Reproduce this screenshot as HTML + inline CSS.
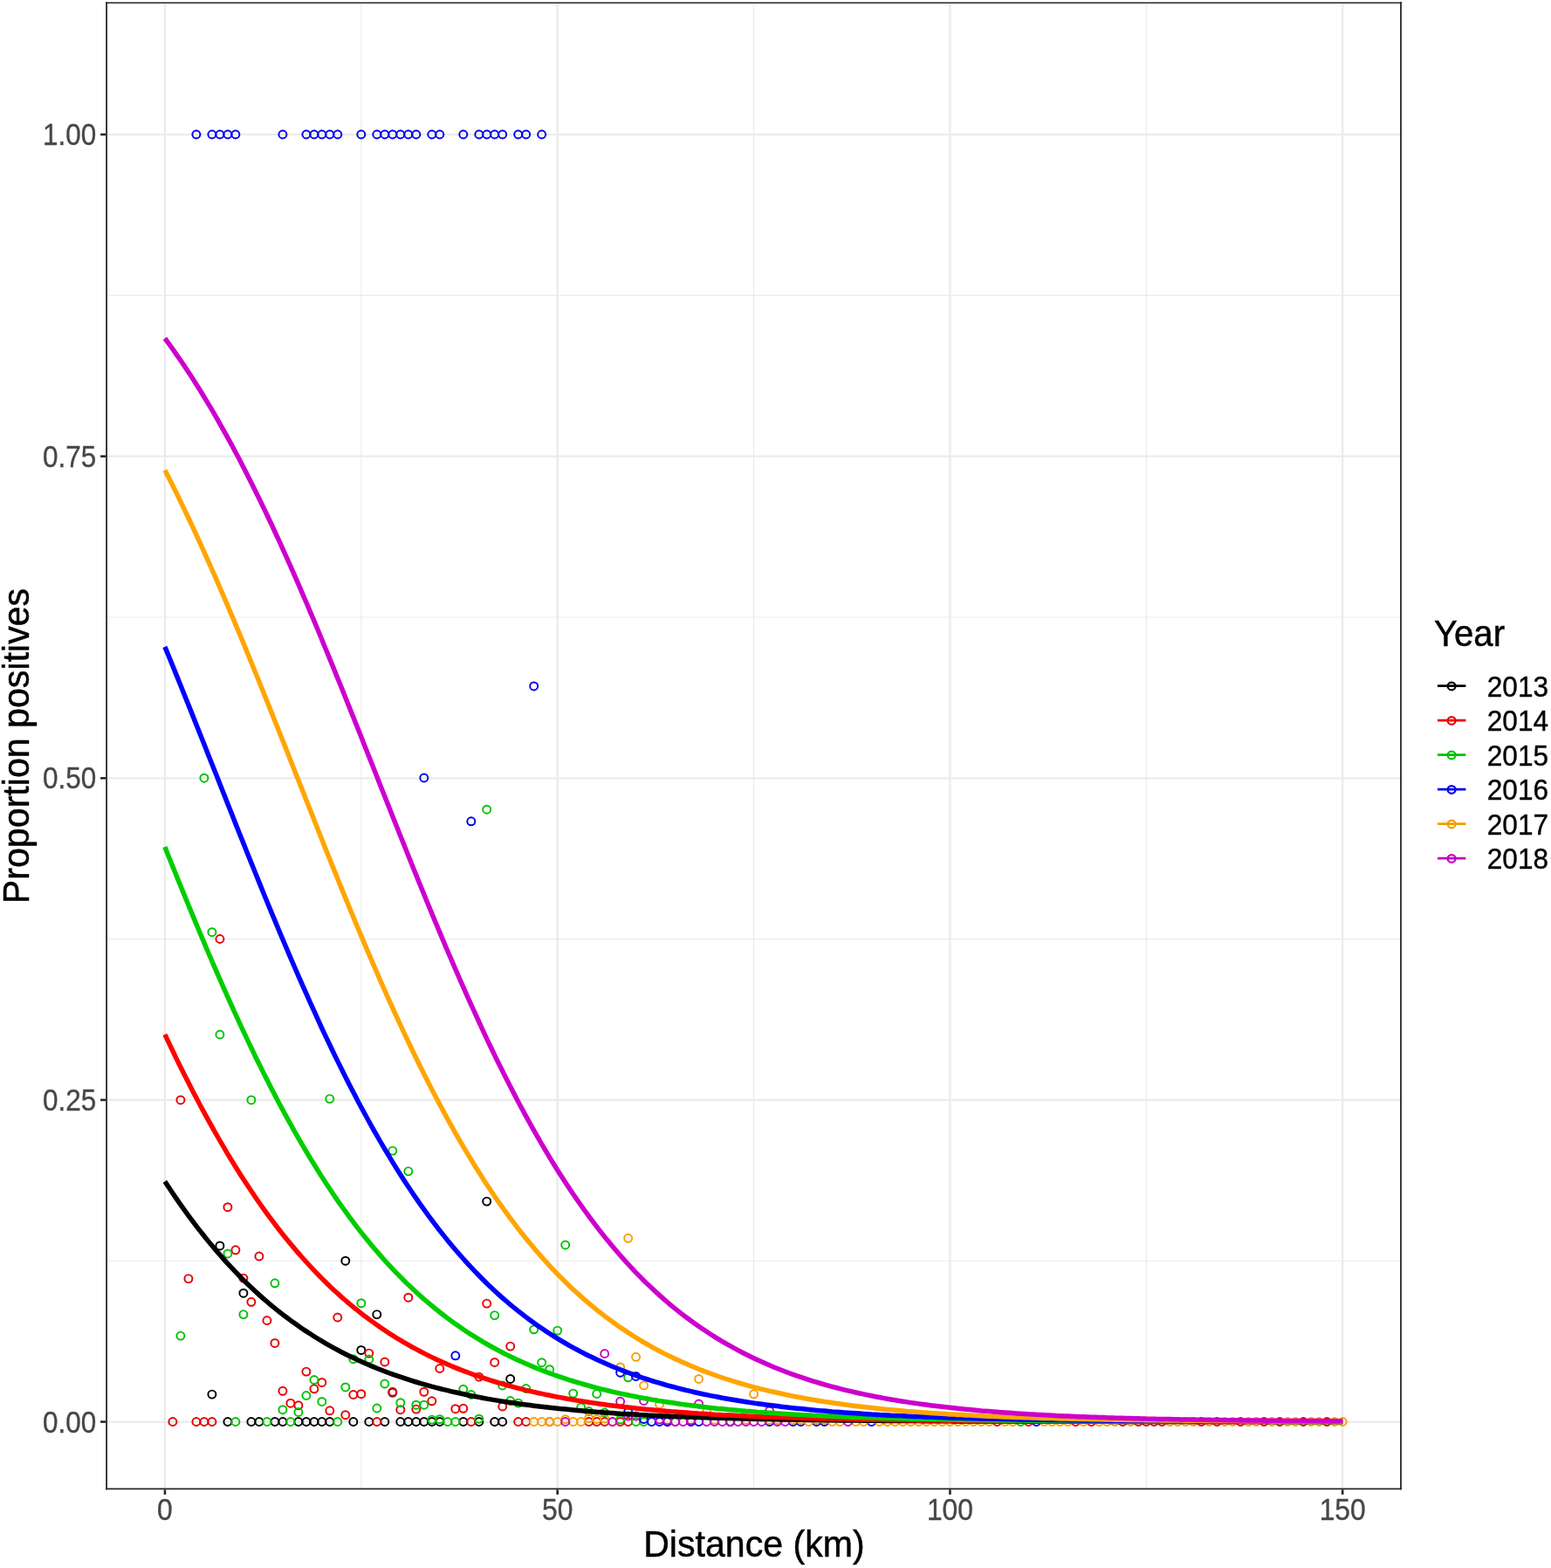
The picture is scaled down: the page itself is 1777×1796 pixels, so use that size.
<!DOCTYPE html>
<html lang="en"><head><meta charset="utf-8"><title>Proportion positives by distance and year</title>
<style>html,body{margin:0;padding:0;background:#fff}body{width:1777px;height:1796px;overflow:hidden}svg{display:block}text{font-family:"Liberation Sans",sans-serif}.tk{font-size:35.00px;fill:#474747;stroke:#474747;stroke-width:0.35px}.ti{font-size:42.30px;fill:#000;stroke:#000;stroke-width:0.5px}.lg{font-size:34.00px;fill:#000;stroke:#000;stroke-width:0.4px}.p{fill:none;stroke-width:1.95}.c{fill:none;stroke-width:5.50;stroke-linecap:butt;stroke-linejoin:round}</style></head><body>
<svg width="1777" height="1796" viewBox="0 0 1777 1796" role="img" aria-label="Proportion positives versus distance (km) by year">
<rect width="1777" height="1796" fill="#fff"/>
<g stroke="#EBEBEB" fill="none">
<g stroke-width="1.15">
<line x1="122.10" x2="1605.00" y1="1444.24" y2="1444.24"/>
<line x1="122.10" x2="1605.00" y1="1075.61" y2="1075.61"/>
<line x1="122.10" x2="1605.00" y1="706.99" y2="706.99"/>
<line x1="122.10" x2="1605.00" y1="338.36" y2="338.36"/>
<line x1="413.82" x2="413.82" y1="3.25" y2="1705.30"/>
<line x1="863.57" x2="863.57" y1="3.25" y2="1705.30"/>
<line x1="1313.33" x2="1313.33" y1="3.25" y2="1705.30"/>
</g><g stroke-width="2.35">
<line x1="122.10" x2="1605.00" y1="1628.55" y2="1628.55"/>
<line x1="122.10" x2="1605.00" y1="1259.92" y2="1259.92"/>
<line x1="122.10" x2="1605.00" y1="891.30" y2="891.30"/>
<line x1="122.10" x2="1605.00" y1="522.67" y2="522.67"/>
<line x1="122.10" x2="1605.00" y1="154.05" y2="154.05"/>
<line x1="188.95" x2="188.95" y1="3.25" y2="1705.30"/>
<line x1="638.70" x2="638.70" y1="3.25" y2="1705.30"/>
<line x1="1088.45" x2="1088.45" y1="3.25" y2="1705.30"/>
<line x1="1538.20" x2="1538.20" y1="3.25" y2="1705.30"/>
</g></g>
<g class="p" stroke="#000000">
<circle cx="260.9" cy="1628.5" r="4.50"/>
<circle cx="287.9" cy="1628.5" r="4.50"/>
<circle cx="296.9" cy="1628.5" r="4.50"/>
<circle cx="314.9" cy="1628.5" r="4.50"/>
<circle cx="323.9" cy="1628.5" r="4.50"/>
<circle cx="341.9" cy="1628.5" r="4.50"/>
<circle cx="350.9" cy="1628.5" r="4.50"/>
<circle cx="359.9" cy="1628.5" r="4.50"/>
<circle cx="368.8" cy="1628.5" r="4.50"/>
<circle cx="377.8" cy="1628.5" r="4.50"/>
<circle cx="404.8" cy="1628.5" r="4.50"/>
<circle cx="422.8" cy="1628.5" r="4.50"/>
<circle cx="440.8" cy="1628.5" r="4.50"/>
<circle cx="458.8" cy="1628.5" r="4.50"/>
<circle cx="467.8" cy="1628.5" r="4.50"/>
<circle cx="476.8" cy="1628.5" r="4.50"/>
<circle cx="485.8" cy="1628.5" r="4.50"/>
<circle cx="494.8" cy="1628.5" r="4.50"/>
<circle cx="503.8" cy="1628.5" r="4.50"/>
<circle cx="530.8" cy="1628.5" r="4.50"/>
<circle cx="548.8" cy="1628.5" r="4.50"/>
<circle cx="566.7" cy="1628.5" r="4.50"/>
<circle cx="575.7" cy="1628.5" r="4.50"/>
<circle cx="251.9" cy="1426.9" r="4.50"/>
<circle cx="395.8" cy="1444.2" r="4.50"/>
<circle cx="278.9" cy="1481.2" r="4.50"/>
<circle cx="431.8" cy="1505.6" r="4.50"/>
<circle cx="413.8" cy="1546.4" r="4.50"/>
<circle cx="242.9" cy="1597.1" r="4.50"/>
<circle cx="449.8" cy="1595.1" r="4.50"/>
<circle cx="557.7" cy="1376.1" r="4.50"/>
<circle cx="584.7" cy="1579.4" r="4.50"/>
</g>
<g class="p" stroke="#E80000">
<circle cx="197.9" cy="1628.5" r="4.50"/>
<circle cx="224.9" cy="1628.5" r="4.50"/>
<circle cx="233.9" cy="1628.5" r="4.50"/>
<circle cx="242.9" cy="1628.5" r="4.50"/>
<circle cx="431.8" cy="1628.5" r="4.50"/>
<circle cx="539.8" cy="1628.5" r="4.50"/>
<circle cx="593.7" cy="1628.5" r="4.50"/>
<circle cx="602.7" cy="1628.5" r="4.50"/>
<circle cx="629.7" cy="1628.5" r="4.50"/>
<circle cx="674.7" cy="1628.5" r="4.50"/>
<circle cx="683.7" cy="1628.5" r="4.50"/>
<circle cx="692.7" cy="1628.5" r="4.50"/>
<circle cx="710.7" cy="1628.5" r="4.50"/>
<circle cx="719.7" cy="1628.5" r="4.50"/>
<circle cx="764.6" cy="1628.5" r="4.50"/>
<circle cx="1142.4" cy="1628.5" r="4.50"/>
<circle cx="1178.4" cy="1628.5" r="4.50"/>
<circle cx="1232.4" cy="1628.5" r="4.50"/>
<circle cx="1250.4" cy="1628.5" r="4.50"/>
<circle cx="1286.3" cy="1628.5" r="4.50"/>
<circle cx="1304.3" cy="1628.5" r="4.50"/>
<circle cx="1313.3" cy="1628.5" r="4.50"/>
<circle cx="1322.3" cy="1628.5" r="4.50"/>
<circle cx="1331.3" cy="1628.5" r="4.50"/>
<circle cx="1376.3" cy="1628.5" r="4.50"/>
<circle cx="1394.3" cy="1628.5" r="4.50"/>
<circle cx="1421.3" cy="1628.5" r="4.50"/>
<circle cx="1448.2" cy="1628.5" r="4.50"/>
<circle cx="1466.2" cy="1628.5" r="4.50"/>
<circle cx="1493.2" cy="1628.5" r="4.50"/>
<circle cx="1520.2" cy="1628.5" r="4.50"/>
<circle cx="269.9" cy="1431.8" r="4.50"/>
<circle cx="296.9" cy="1439.0" r="4.50"/>
<circle cx="215.9" cy="1464.6" r="4.50"/>
<circle cx="278.9" cy="1464.1" r="4.50"/>
<circle cx="287.9" cy="1491.3" r="4.50"/>
<circle cx="305.9" cy="1512.5" r="4.50"/>
<circle cx="386.8" cy="1509.0" r="4.50"/>
<circle cx="314.9" cy="1538.4" r="4.50"/>
<circle cx="422.8" cy="1550.1" r="4.50"/>
<circle cx="350.9" cy="1571.1" r="4.50"/>
<circle cx="368.8" cy="1583.4" r="4.50"/>
<circle cx="359.9" cy="1590.8" r="4.50"/>
<circle cx="323.9" cy="1593.3" r="4.50"/>
<circle cx="404.8" cy="1597.5" r="4.50"/>
<circle cx="413.8" cy="1596.7" r="4.50"/>
<circle cx="332.9" cy="1607.2" r="4.50"/>
<circle cx="341.9" cy="1609.8" r="4.50"/>
<circle cx="377.8" cy="1615.8" r="4.50"/>
<circle cx="395.8" cy="1620.7" r="4.50"/>
<circle cx="206.9" cy="1259.9" r="4.50"/>
<circle cx="260.9" cy="1382.7" r="4.50"/>
<circle cx="251.9" cy="1075.5" r="4.50"/>
<circle cx="467.8" cy="1486.2" r="4.50"/>
<circle cx="557.7" cy="1493.1" r="4.50"/>
<circle cx="584.7" cy="1542.1" r="4.50"/>
<circle cx="440.8" cy="1560.0" r="4.50"/>
<circle cx="566.7" cy="1560.4" r="4.50"/>
<circle cx="503.8" cy="1567.5" r="4.50"/>
<circle cx="548.8" cy="1577.1" r="4.50"/>
<circle cx="449.8" cy="1594.3" r="4.50"/>
<circle cx="485.8" cy="1594.3" r="4.50"/>
<circle cx="494.8" cy="1604.8" r="4.50"/>
<circle cx="458.8" cy="1614.7" r="4.50"/>
<circle cx="476.8" cy="1614.1" r="4.50"/>
<circle cx="521.8" cy="1613.7" r="4.50"/>
<circle cx="530.8" cy="1613.3" r="4.50"/>
<circle cx="575.7" cy="1611.0" r="4.50"/>
</g>
<g class="p" stroke="#00C400">
<circle cx="269.9" cy="1628.5" r="4.50"/>
<circle cx="305.9" cy="1628.5" r="4.50"/>
<circle cx="332.9" cy="1628.5" r="4.50"/>
<circle cx="386.8" cy="1628.5" r="4.50"/>
<circle cx="512.8" cy="1628.5" r="4.50"/>
<circle cx="521.8" cy="1628.5" r="4.50"/>
<circle cx="728.6" cy="1628.5" r="4.50"/>
<circle cx="737.6" cy="1628.5" r="4.50"/>
<circle cx="773.6" cy="1628.5" r="4.50"/>
<circle cx="836.6" cy="1628.5" r="4.50"/>
<circle cx="1169.4" cy="1628.5" r="4.50"/>
<circle cx="260.9" cy="1436.0" r="4.50"/>
<circle cx="314.9" cy="1469.8" r="4.50"/>
<circle cx="278.9" cy="1505.6" r="4.50"/>
<circle cx="413.8" cy="1492.7" r="4.50"/>
<circle cx="206.9" cy="1530.1" r="4.50"/>
<circle cx="404.8" cy="1556.7" r="4.50"/>
<circle cx="422.8" cy="1557.0" r="4.50"/>
<circle cx="359.9" cy="1580.5" r="4.50"/>
<circle cx="350.9" cy="1598.5" r="4.50"/>
<circle cx="395.8" cy="1588.9" r="4.50"/>
<circle cx="368.8" cy="1605.4" r="4.50"/>
<circle cx="323.9" cy="1614.7" r="4.50"/>
<circle cx="341.9" cy="1617.5" r="4.50"/>
<circle cx="431.8" cy="1613.0" r="4.50"/>
<circle cx="251.9" cy="1185.0" r="4.50"/>
<circle cx="287.9" cy="1259.9" r="4.50"/>
<circle cx="377.8" cy="1258.6" r="4.50"/>
<circle cx="233.9" cy="891.2" r="4.50"/>
<circle cx="557.7" cy="927.2" r="4.50"/>
<circle cx="242.9" cy="1067.7" r="4.50"/>
<circle cx="449.8" cy="1318.1" r="4.50"/>
<circle cx="467.8" cy="1341.6" r="4.50"/>
<circle cx="566.7" cy="1506.6" r="4.50"/>
<circle cx="647.7" cy="1426.0" r="4.50"/>
<circle cx="611.7" cy="1522.8" r="4.50"/>
<circle cx="638.7" cy="1524.1" r="4.50"/>
<circle cx="620.7" cy="1560.7" r="4.50"/>
<circle cx="629.7" cy="1568.7" r="4.50"/>
<circle cx="440.8" cy="1585.0" r="4.50"/>
<circle cx="575.7" cy="1587.0" r="4.50"/>
<circle cx="602.7" cy="1590.5" r="4.50"/>
<circle cx="530.8" cy="1591.2" r="4.50"/>
<circle cx="539.8" cy="1597.5" r="4.50"/>
<circle cx="656.7" cy="1596.1" r="4.50"/>
<circle cx="683.7" cy="1596.5" r="4.50"/>
<circle cx="458.8" cy="1606.7" r="4.50"/>
<circle cx="476.8" cy="1609.2" r="4.50"/>
<circle cx="485.8" cy="1609.2" r="4.50"/>
<circle cx="584.7" cy="1604.5" r="4.50"/>
<circle cx="593.7" cy="1607.1" r="4.50"/>
<circle cx="665.7" cy="1612.0" r="4.50"/>
<circle cx="674.7" cy="1616.5" r="4.50"/>
<circle cx="494.8" cy="1626.1" r="4.50"/>
<circle cx="503.8" cy="1625.7" r="4.50"/>
<circle cx="548.8" cy="1625.2" r="4.50"/>
<circle cx="719.7" cy="1577.8" r="4.50"/>
<circle cx="692.7" cy="1618.0" r="4.50"/>
<circle cx="710.7" cy="1626.0" r="4.50"/>
</g>
<g class="p" stroke="#0000EB">
<circle cx="224.9" cy="154.0" r="4.50"/>
<circle cx="242.9" cy="154.0" r="4.50"/>
<circle cx="251.9" cy="154.0" r="4.50"/>
<circle cx="260.9" cy="154.0" r="4.50"/>
<circle cx="269.9" cy="154.0" r="4.50"/>
<circle cx="323.9" cy="154.0" r="4.50"/>
<circle cx="350.9" cy="154.0" r="4.50"/>
<circle cx="359.9" cy="154.0" r="4.50"/>
<circle cx="368.8" cy="154.0" r="4.50"/>
<circle cx="377.8" cy="154.0" r="4.50"/>
<circle cx="386.8" cy="154.0" r="4.50"/>
<circle cx="413.8" cy="154.0" r="4.50"/>
<circle cx="431.8" cy="154.0" r="4.50"/>
<circle cx="440.8" cy="154.0" r="4.50"/>
<circle cx="449.8" cy="154.0" r="4.50"/>
<circle cx="458.8" cy="154.0" r="4.50"/>
<circle cx="467.8" cy="154.0" r="4.50"/>
<circle cx="476.8" cy="154.0" r="4.50"/>
<circle cx="494.8" cy="154.0" r="4.50"/>
<circle cx="503.8" cy="154.0" r="4.50"/>
<circle cx="530.8" cy="154.0" r="4.50"/>
<circle cx="548.8" cy="154.0" r="4.50"/>
<circle cx="557.7" cy="154.0" r="4.50"/>
<circle cx="566.7" cy="154.0" r="4.50"/>
<circle cx="575.7" cy="154.0" r="4.50"/>
<circle cx="593.7" cy="154.0" r="4.50"/>
<circle cx="602.7" cy="154.0" r="4.50"/>
<circle cx="620.7" cy="154.0" r="4.50"/>
<circle cx="746.6" cy="1628.5" r="4.50"/>
<circle cx="755.6" cy="1628.5" r="4.50"/>
<circle cx="764.6" cy="1628.5" r="4.50"/>
<circle cx="791.6" cy="1628.5" r="4.50"/>
<circle cx="800.6" cy="1628.5" r="4.50"/>
<circle cx="836.6" cy="1628.5" r="4.50"/>
<circle cx="881.6" cy="1628.5" r="4.50"/>
<circle cx="908.5" cy="1628.5" r="4.50"/>
<circle cx="917.5" cy="1628.5" r="4.50"/>
<circle cx="935.5" cy="1628.5" r="4.50"/>
<circle cx="944.5" cy="1628.5" r="4.50"/>
<circle cx="998.5" cy="1628.5" r="4.50"/>
<circle cx="1187.4" cy="1628.5" r="4.50"/>
<circle cx="611.7" cy="785.9" r="4.50"/>
<circle cx="485.8" cy="891.0" r="4.50"/>
<circle cx="539.8" cy="940.8" r="4.50"/>
<circle cx="521.8" cy="1552.8" r="4.50"/>
<circle cx="710.7" cy="1572.2" r="4.50"/>
<circle cx="728.6" cy="1576.4" r="4.50"/>
<circle cx="737.6" cy="1625.4" r="4.50"/>
<circle cx="719.7" cy="1617.3" r="4.50"/>
</g>
<g class="p" stroke="#FA9F00">
<circle cx="611.7" cy="1628.5" r="4.50"/>
<circle cx="620.7" cy="1628.5" r="4.50"/>
<circle cx="629.7" cy="1628.5" r="4.50"/>
<circle cx="638.7" cy="1628.5" r="4.50"/>
<circle cx="656.7" cy="1628.5" r="4.50"/>
<circle cx="665.7" cy="1628.5" r="4.50"/>
<circle cx="701.7" cy="1628.5" r="4.50"/>
<circle cx="926.5" cy="1628.5" r="4.50"/>
<circle cx="953.5" cy="1628.5" r="4.50"/>
<circle cx="962.5" cy="1628.5" r="4.50"/>
<circle cx="980.5" cy="1628.5" r="4.50"/>
<circle cx="989.5" cy="1628.5" r="4.50"/>
<circle cx="1007.5" cy="1628.5" r="4.50"/>
<circle cx="1016.5" cy="1628.5" r="4.50"/>
<circle cx="1025.5" cy="1628.5" r="4.50"/>
<circle cx="1034.5" cy="1628.5" r="4.50"/>
<circle cx="1043.5" cy="1628.5" r="4.50"/>
<circle cx="1052.5" cy="1628.5" r="4.50"/>
<circle cx="1061.5" cy="1628.5" r="4.50"/>
<circle cx="1070.5" cy="1628.5" r="4.50"/>
<circle cx="1079.5" cy="1628.5" r="4.50"/>
<circle cx="1088.4" cy="1628.5" r="4.50"/>
<circle cx="1097.4" cy="1628.5" r="4.50"/>
<circle cx="1106.4" cy="1628.5" r="4.50"/>
<circle cx="1115.4" cy="1628.5" r="4.50"/>
<circle cx="1124.4" cy="1628.5" r="4.50"/>
<circle cx="1133.4" cy="1628.5" r="4.50"/>
<circle cx="1151.4" cy="1628.5" r="4.50"/>
<circle cx="1160.4" cy="1628.5" r="4.50"/>
<circle cx="1196.4" cy="1628.5" r="4.50"/>
<circle cx="1205.4" cy="1628.5" r="4.50"/>
<circle cx="1214.4" cy="1628.5" r="4.50"/>
<circle cx="1223.4" cy="1628.5" r="4.50"/>
<circle cx="1241.4" cy="1628.5" r="4.50"/>
<circle cx="1259.4" cy="1628.5" r="4.50"/>
<circle cx="1268.3" cy="1628.5" r="4.50"/>
<circle cx="1277.3" cy="1628.5" r="4.50"/>
<circle cx="1295.3" cy="1628.5" r="4.50"/>
<circle cx="1340.3" cy="1628.5" r="4.50"/>
<circle cx="1349.3" cy="1628.5" r="4.50"/>
<circle cx="1358.3" cy="1628.5" r="4.50"/>
<circle cx="1367.3" cy="1628.5" r="4.50"/>
<circle cx="1385.3" cy="1628.5" r="4.50"/>
<circle cx="1403.3" cy="1628.5" r="4.50"/>
<circle cx="1412.3" cy="1628.5" r="4.50"/>
<circle cx="1430.3" cy="1628.5" r="4.50"/>
<circle cx="1439.3" cy="1628.5" r="4.50"/>
<circle cx="1457.2" cy="1628.5" r="4.50"/>
<circle cx="1475.2" cy="1628.5" r="4.50"/>
<circle cx="1484.2" cy="1628.5" r="4.50"/>
<circle cx="1502.2" cy="1628.5" r="4.50"/>
<circle cx="1511.2" cy="1628.5" r="4.50"/>
<circle cx="1529.2" cy="1628.5" r="4.50"/>
<circle cx="1538.2" cy="1628.5" r="4.50"/>
<circle cx="719.7" cy="1418.3" r="4.50"/>
<circle cx="728.6" cy="1554.3" r="4.50"/>
<circle cx="710.7" cy="1565.9" r="4.50"/>
<circle cx="737.6" cy="1587.0" r="4.50"/>
<circle cx="800.6" cy="1579.5" r="4.50"/>
<circle cx="863.6" cy="1596.8" r="4.50"/>
<circle cx="755.6" cy="1608.5" r="4.50"/>
<circle cx="809.6" cy="1617.3" r="4.50"/>
<circle cx="674.7" cy="1624.4" r="4.50"/>
<circle cx="683.7" cy="1625.4" r="4.50"/>
<circle cx="647.7" cy="1625.7" r="4.50"/>
<circle cx="692.7" cy="1625.0" r="4.50"/>
<circle cx="764.6" cy="1626.4" r="4.50"/>
<circle cx="791.6" cy="1626.4" r="4.50"/>
<circle cx="818.6" cy="1626.4" r="4.50"/>
<circle cx="854.6" cy="1626.4" r="4.50"/>
<circle cx="881.6" cy="1626.4" r="4.50"/>
<circle cx="890.6" cy="1626.4" r="4.50"/>
<circle cx="908.5" cy="1626.4" r="4.50"/>
<circle cx="917.5" cy="1626.4" r="4.50"/>
<circle cx="935.5" cy="1626.4" r="4.50"/>
<circle cx="944.5" cy="1626.4" r="4.50"/>
</g>
<g class="p" stroke="#C800C8">
<circle cx="647.7" cy="1628.5" r="4.50"/>
<circle cx="701.7" cy="1628.5" r="4.50"/>
<circle cx="773.6" cy="1628.5" r="4.50"/>
<circle cx="782.6" cy="1628.5" r="4.50"/>
<circle cx="809.6" cy="1628.5" r="4.50"/>
<circle cx="818.6" cy="1628.5" r="4.50"/>
<circle cx="827.6" cy="1628.5" r="4.50"/>
<circle cx="836.6" cy="1628.5" r="4.50"/>
<circle cx="845.6" cy="1628.5" r="4.50"/>
<circle cx="854.6" cy="1628.5" r="4.50"/>
<circle cx="863.6" cy="1628.5" r="4.50"/>
<circle cx="872.6" cy="1628.5" r="4.50"/>
<circle cx="890.6" cy="1628.5" r="4.50"/>
<circle cx="899.6" cy="1628.5" r="4.50"/>
<circle cx="971.5" cy="1628.5" r="4.50"/>
<circle cx="692.7" cy="1550.5" r="4.50"/>
<circle cx="710.7" cy="1605.3" r="4.50"/>
<circle cx="737.6" cy="1604.5" r="4.50"/>
<circle cx="800.6" cy="1608.0" r="4.50"/>
<circle cx="881.6" cy="1616.0" r="4.50"/>
<circle cx="719.7" cy="1622.0" r="4.50"/>
<circle cx="728.6" cy="1622.0" r="4.50"/>
<circle cx="755.6" cy="1626.0" r="4.50"/>
<circle cx="764.6" cy="1627.0" r="4.50"/>
<circle cx="791.6" cy="1627.0" r="4.50"/>
</g>
<polyline class="c" stroke="#000000" points="188.9,1353.3 193.4,1360.1 197.9,1366.8 202.4,1373.4 206.9,1379.8 211.4,1386.2 215.9,1392.3 220.4,1398.4 224.9,1404.3 229.4,1410.1 233.9,1415.8 238.4,1421.4 242.9,1426.8 247.4,1432.1 251.9,1437.3 256.4,1442.4 260.9,1447.3 265.4,1452.2 269.9,1456.9 274.4,1461.5 278.9,1466.1 283.4,1470.5 287.9,1474.8 292.4,1479.0 296.9,1483.1 301.4,1487.1 305.9,1491.0 310.4,1494.8 314.9,1498.5 319.4,1502.1 323.9,1505.6 328.4,1509.0 332.9,1512.4 337.4,1515.6 341.9,1518.8 346.4,1521.9 350.9,1524.9 355.4,1527.8 359.9,1530.7 364.4,1533.5 368.8,1536.2 373.3,1538.8 377.8,1541.4 382.3,1543.9 386.8,1546.3 391.3,1548.7 395.8,1551.0 400.3,1553.2 404.8,1555.4 409.3,1557.5 413.8,1559.6 418.3,1561.6 422.8,1563.5 427.3,1565.4 431.8,1567.2 436.3,1569.0 440.8,1570.8 445.3,1572.5 449.8,1574.1 454.3,1575.7 458.8,1577.2 463.3,1578.7 467.8,1580.2 472.3,1581.6 476.8,1583.0 481.3,1584.4 485.8,1585.7 490.3,1586.9 494.8,1588.2 499.3,1589.3 503.8,1590.5 508.3,1591.6 512.8,1592.7 517.3,1593.8 521.8,1594.8 526.3,1595.8 530.8,1596.8 535.3,1597.7 539.8,1598.7 544.3,1599.5 548.8,1600.4 553.2,1601.3 557.7,1602.1 562.2,1602.9 566.7,1603.6 571.2,1604.4 575.7,1605.1 580.2,1605.8 584.7,1606.5 589.2,1607.1 593.7,1607.8 598.2,1608.4 602.7,1609.0 607.2,1609.6 611.7,1610.2 616.2,1610.7 620.7,1611.2 625.2,1611.8 629.7,1612.3 634.2,1612.8 638.7,1613.2 643.2,1613.7 647.7,1614.1 652.2,1614.6 656.7,1615.0 661.2,1615.4 665.7,1615.8 670.2,1616.2 674.7,1616.6 679.2,1616.9 683.7,1617.3 688.2,1617.6 692.7,1617.9 697.2,1618.3 701.7,1618.6 706.2,1618.9 710.7,1619.2 715.2,1619.4 719.7,1619.7 724.2,1620.0 728.6,1620.2 733.1,1620.5 737.6,1620.7 742.1,1621.0 746.6,1621.2 751.1,1621.4 755.6,1621.6 760.1,1621.9 764.6,1622.1 769.1,1622.3 773.6,1622.4 778.1,1622.6 782.6,1622.8 787.1,1623.0 791.6,1623.1 796.1,1623.3 800.6,1623.5 805.1,1623.6 809.6,1623.8 814.1,1623.9 818.6,1624.1 823.1,1624.2 827.6,1624.3 832.1,1624.5 836.6,1624.6 841.1,1624.7 845.6,1624.8 850.1,1624.9 854.6,1625.0 859.1,1625.1 863.6,1625.2 868.1,1625.3 872.6,1625.4 877.1,1625.5 881.6,1625.6 886.1,1625.7 890.6,1625.8 895.1,1625.9 899.6,1626.0 904.1,1626.0 908.5,1626.1 913.0,1626.2 917.5,1626.3 922.0,1626.3 926.5,1626.4 931.0,1626.5 935.5,1626.5 940.0,1626.6 944.5,1626.7 949.0,1626.7 953.5,1626.8 958.0,1626.8 962.5,1626.9 967.0,1626.9 971.5,1627.0 976.0,1627.0 980.5,1627.1 985.0,1627.1 989.5,1627.2 994.0,1627.2 998.5,1627.2 1003.0,1627.3 1007.5,1627.3 1012.0,1627.4 1016.5,1627.4 1021.0,1627.4 1025.5,1627.5 1030.0,1627.5 1034.5,1627.5 1039.0,1627.6 1043.5,1627.6 1048.0,1627.6 1052.5,1627.6 1057.0,1627.7 1061.5,1627.7 1066.0,1627.7 1070.5,1627.7 1075.0,1627.8 1079.5,1627.8 1084.0,1627.8 1088.4,1627.8 1092.9,1627.9 1097.4,1627.9 1101.9,1627.9 1106.4,1627.9 1110.9,1627.9 1115.4,1628.0 1119.9,1628.0 1124.4,1628.0 1128.9,1628.0 1133.4,1628.0 1137.9,1628.0 1142.4,1628.1 1146.9,1628.1 1151.4,1628.1 1155.9,1628.1 1160.4,1628.1 1164.9,1628.1 1169.4,1628.1 1173.9,1628.2 1178.4,1628.2 1182.9,1628.2 1187.4,1628.2 1191.9,1628.2 1196.4,1628.2 1200.9,1628.2 1205.4,1628.2 1209.9,1628.2 1214.4,1628.3 1218.9,1628.3 1223.4,1628.3 1227.9,1628.3 1232.4,1628.3 1236.9,1628.3 1241.4,1628.3 1245.9,1628.3 1250.4,1628.3 1254.9,1628.3 1259.4,1628.3 1263.9,1628.3 1268.3,1628.3 1272.8,1628.4 1277.3,1628.4 1281.8,1628.4 1286.3,1628.4 1290.8,1628.4 1295.3,1628.4 1299.8,1628.4 1304.3,1628.4 1308.8,1628.4 1313.3,1628.4 1317.8,1628.4 1322.3,1628.4 1326.8,1628.4 1331.3,1628.4 1335.8,1628.4 1340.3,1628.4 1344.8,1628.4 1349.3,1628.4 1353.8,1628.4 1358.3,1628.4 1362.8,1628.4 1367.3,1628.4 1371.8,1628.4 1376.3,1628.5 1380.8,1628.5 1385.3,1628.5 1389.8,1628.5 1394.3,1628.5 1398.8,1628.5 1403.3,1628.5 1407.8,1628.5 1412.3,1628.5 1416.8,1628.5 1421.3,1628.5 1425.8,1628.5 1430.3,1628.5 1434.8,1628.5 1439.3,1628.5 1443.8,1628.5 1448.2,1628.5 1452.7,1628.5 1457.2,1628.5 1461.7,1628.5 1466.2,1628.5 1470.7,1628.5 1475.2,1628.5 1479.7,1628.5 1484.2,1628.5 1488.7,1628.5 1493.2,1628.5 1497.7,1628.5 1502.2,1628.5 1506.7,1628.5 1511.2,1628.5 1515.7,1628.5 1520.2,1628.5 1524.7,1628.5 1529.2,1628.5 1533.7,1628.5 1538.2,1628.5"/>
<polyline class="c" stroke="#FF0000" points="188.9,1184.9 193.4,1194.4 197.9,1203.8 202.4,1213.1 206.9,1222.2 211.4,1231.3 215.9,1240.1 220.4,1248.9 224.9,1257.5 229.4,1266.0 233.9,1274.4 238.4,1282.6 242.9,1290.7 247.4,1298.7 251.9,1306.5 256.4,1314.2 260.9,1321.8 265.4,1329.2 269.9,1336.5 274.4,1343.7 278.9,1350.7 283.4,1357.6 287.9,1364.3 292.4,1371.0 296.9,1377.5 301.4,1383.8 305.9,1390.1 310.4,1396.2 314.9,1402.1 319.4,1408.0 323.9,1413.7 328.4,1419.3 332.9,1424.8 337.4,1430.1 341.9,1435.4 346.4,1440.5 350.9,1445.5 355.4,1450.4 359.9,1455.2 364.4,1459.8 368.8,1464.4 373.3,1468.8 377.8,1473.2 382.3,1477.4 386.8,1481.5 391.3,1485.6 395.8,1489.5 400.3,1493.4 404.8,1497.1 409.3,1500.7 413.8,1504.3 418.3,1507.8 422.8,1511.1 427.3,1514.4 431.8,1517.6 436.3,1520.8 440.8,1523.8 445.3,1526.8 449.8,1529.6 454.3,1532.5 458.8,1535.2 463.3,1537.9 467.8,1540.4 472.3,1543.0 476.8,1545.4 481.3,1547.8 485.8,1550.1 490.3,1552.4 494.8,1554.6 499.3,1556.7 503.8,1558.8 508.3,1560.8 512.8,1562.8 517.3,1564.7 521.8,1566.6 526.3,1568.4 530.8,1570.1 535.3,1571.8 539.8,1573.5 544.3,1575.1 548.8,1576.7 553.2,1578.2 557.7,1579.7 562.2,1581.1 566.7,1582.5 571.2,1583.9 575.7,1585.2 580.2,1586.5 584.7,1587.7 589.2,1588.9 593.7,1590.1 598.2,1591.2 602.7,1592.3 607.2,1593.4 611.7,1594.4 616.2,1595.5 620.7,1596.4 625.2,1597.4 629.7,1598.3 634.2,1599.2 638.7,1600.1 643.2,1600.9 647.7,1601.8 652.2,1602.6 656.7,1603.3 661.2,1604.1 665.7,1604.8 670.2,1605.5 674.7,1606.2 679.2,1606.9 683.7,1607.5 688.2,1608.2 692.7,1608.8 697.2,1609.4 701.7,1609.9 706.2,1610.5 710.7,1611.0 715.2,1611.6 719.7,1612.1 724.2,1612.6 728.6,1613.1 733.1,1613.5 737.6,1614.0 742.1,1614.4 746.6,1614.8 751.1,1615.3 755.6,1615.7 760.1,1616.0 764.6,1616.4 769.1,1616.8 773.6,1617.1 778.1,1617.5 782.6,1617.8 787.1,1618.1 791.6,1618.5 796.1,1618.8 800.6,1619.1 805.1,1619.3 809.6,1619.6 814.1,1619.9 818.6,1620.2 823.1,1620.4 827.6,1620.7 832.1,1620.9 836.6,1621.1 841.1,1621.3 845.6,1621.6 850.1,1621.8 854.6,1622.0 859.1,1622.2 863.6,1622.4 868.1,1622.6 872.6,1622.7 877.1,1622.9 881.6,1623.1 886.1,1623.3 890.6,1623.4 895.1,1623.6 899.6,1623.7 904.1,1623.9 908.5,1624.0 913.0,1624.1 917.5,1624.3 922.0,1624.4 926.5,1624.5 931.0,1624.7 935.5,1624.8 940.0,1624.9 944.5,1625.0 949.0,1625.1 953.5,1625.2 958.0,1625.3 962.5,1625.4 967.0,1625.5 971.5,1625.6 976.0,1625.7 980.5,1625.8 985.0,1625.9 989.5,1625.9 994.0,1626.0 998.5,1626.1 1003.0,1626.2 1007.5,1626.2 1012.0,1626.3 1016.5,1626.4 1021.0,1626.4 1025.5,1626.5 1030.0,1626.6 1034.5,1626.6 1039.0,1626.7 1043.5,1626.7 1048.0,1626.8 1052.5,1626.9 1057.0,1626.9 1061.5,1627.0 1066.0,1627.0 1070.5,1627.1 1075.0,1627.1 1079.5,1627.1 1084.0,1627.2 1088.4,1627.2 1092.9,1627.3 1097.4,1627.3 1101.9,1627.3 1106.4,1627.4 1110.9,1627.4 1115.4,1627.4 1119.9,1627.5 1124.4,1627.5 1128.9,1627.5 1133.4,1627.6 1137.9,1627.6 1142.4,1627.6 1146.9,1627.7 1151.4,1627.7 1155.9,1627.7 1160.4,1627.7 1164.9,1627.8 1169.4,1627.8 1173.9,1627.8 1178.4,1627.8 1182.9,1627.9 1187.4,1627.9 1191.9,1627.9 1196.4,1627.9 1200.9,1627.9 1205.4,1628.0 1209.9,1628.0 1214.4,1628.0 1218.9,1628.0 1223.4,1628.0 1227.9,1628.0 1232.4,1628.1 1236.9,1628.1 1241.4,1628.1 1245.9,1628.1 1250.4,1628.1 1254.9,1628.1 1259.4,1628.1 1263.9,1628.2 1268.3,1628.2 1272.8,1628.2 1277.3,1628.2 1281.8,1628.2 1286.3,1628.2 1290.8,1628.2 1295.3,1628.2 1299.8,1628.2 1304.3,1628.2 1308.8,1628.3 1313.3,1628.3 1317.8,1628.3 1322.3,1628.3 1326.8,1628.3 1331.3,1628.3 1335.8,1628.3 1340.3,1628.3 1344.8,1628.3 1349.3,1628.3 1353.8,1628.3 1358.3,1628.3 1362.8,1628.3 1367.3,1628.4 1371.8,1628.4 1376.3,1628.4 1380.8,1628.4 1385.3,1628.4 1389.8,1628.4 1394.3,1628.4 1398.8,1628.4 1403.3,1628.4 1407.8,1628.4 1412.3,1628.4 1416.8,1628.4 1421.3,1628.4 1425.8,1628.4 1430.3,1628.4 1434.8,1628.4 1439.3,1628.4 1443.8,1628.4 1448.2,1628.4 1452.7,1628.4 1457.2,1628.4 1461.7,1628.4 1466.2,1628.5 1470.7,1628.5 1475.2,1628.5 1479.7,1628.5 1484.2,1628.5 1488.7,1628.5 1493.2,1628.5 1497.7,1628.5 1502.2,1628.5 1506.7,1628.5 1511.2,1628.5 1515.7,1628.5 1520.2,1628.5 1524.7,1628.5 1529.2,1628.5 1533.7,1628.5 1538.2,1628.5"/>
<polyline class="c" stroke="#00CD00" points="188.9,970.1 193.4,981.4 197.9,992.5 202.4,1003.7 206.9,1014.8 211.4,1025.8 215.9,1036.7 220.4,1047.6 224.9,1058.5 229.4,1069.2 233.9,1079.9 238.4,1090.5 242.9,1101.0 247.4,1111.4 251.9,1121.7 256.4,1131.9 260.9,1142.0 265.4,1152.0 269.9,1161.9 274.4,1171.7 278.9,1181.4 283.4,1190.9 287.9,1200.3 292.4,1209.7 296.9,1218.8 301.4,1227.9 305.9,1236.8 310.4,1245.7 314.9,1254.3 319.4,1262.9 323.9,1271.3 328.4,1279.6 332.9,1287.7 337.4,1295.8 341.9,1303.6 346.4,1311.4 350.9,1319.0 355.4,1326.5 359.9,1333.8 364.4,1341.0 368.8,1348.1 373.3,1355.0 377.8,1361.8 382.3,1368.5 386.8,1375.1 391.3,1381.5 395.8,1387.7 400.3,1393.9 404.8,1399.9 409.3,1405.8 413.8,1411.6 418.3,1417.2 422.8,1422.8 427.3,1428.2 431.8,1433.4 436.3,1438.6 440.8,1443.7 445.3,1448.6 449.8,1453.4 454.3,1458.1 458.8,1462.7 463.3,1467.2 467.8,1471.6 472.3,1475.8 476.8,1480.0 481.3,1484.1 485.8,1488.1 490.3,1491.9 494.8,1495.7 499.3,1499.4 503.8,1503.0 508.3,1506.5 512.8,1509.9 517.3,1513.2 521.8,1516.4 526.3,1519.6 530.8,1522.7 535.3,1525.7 539.8,1528.6 544.3,1531.4 548.8,1534.2 553.2,1536.9 557.7,1539.5 562.2,1542.0 566.7,1544.5 571.2,1546.9 575.7,1549.3 580.2,1551.6 584.7,1553.8 589.2,1555.9 593.7,1558.0 598.2,1560.1 602.7,1562.1 607.2,1564.0 611.7,1565.9 616.2,1567.7 620.7,1569.5 625.2,1571.2 629.7,1572.9 634.2,1574.5 638.7,1576.1 643.2,1577.6 647.7,1579.1 652.2,1580.6 656.7,1582.0 661.2,1583.4 665.7,1584.7 670.2,1586.0 674.7,1587.2 679.2,1588.5 683.7,1589.6 688.2,1590.8 692.7,1591.9 697.2,1593.0 701.7,1594.1 706.2,1595.1 710.7,1596.1 715.2,1597.0 719.7,1598.0 724.2,1598.9 728.6,1599.8 733.1,1600.6 737.6,1601.5 742.1,1602.3 746.6,1603.1 751.1,1603.8 755.6,1604.6 760.1,1605.3 764.6,1606.0 769.1,1606.6 773.6,1607.3 778.1,1607.9 782.6,1608.6 787.1,1609.2 791.6,1609.7 796.1,1610.3 800.6,1610.8 805.1,1611.4 809.6,1611.9 814.1,1612.4 818.6,1612.9 823.1,1613.4 827.6,1613.8 832.1,1614.3 836.6,1614.7 841.1,1615.1 845.6,1615.5 850.1,1615.9 854.6,1616.3 859.1,1616.6 863.6,1617.0 868.1,1617.4 872.6,1617.7 877.1,1618.0 881.6,1618.3 886.1,1618.6 890.6,1618.9 895.1,1619.2 899.6,1619.5 904.1,1619.8 908.5,1620.1 913.0,1620.3 917.5,1620.6 922.0,1620.8 926.5,1621.0 931.0,1621.3 935.5,1621.5 940.0,1621.7 944.5,1621.9 949.0,1622.1 953.5,1622.3 958.0,1622.5 962.5,1622.7 967.0,1622.9 971.5,1623.0 976.0,1623.2 980.5,1623.4 985.0,1623.5 989.5,1623.7 994.0,1623.8 998.5,1624.0 1003.0,1624.1 1007.5,1624.2 1012.0,1624.4 1016.5,1624.5 1021.0,1624.6 1025.5,1624.7 1030.0,1624.8 1034.5,1625.0 1039.0,1625.1 1043.5,1625.2 1048.0,1625.3 1052.5,1625.4 1057.0,1625.5 1061.5,1625.6 1066.0,1625.7 1070.5,1625.7 1075.0,1625.8 1079.5,1625.9 1084.0,1626.0 1088.4,1626.1 1092.9,1626.1 1097.4,1626.2 1101.9,1626.3 1106.4,1626.4 1110.9,1626.4 1115.4,1626.5 1119.9,1626.5 1124.4,1626.6 1128.9,1626.7 1133.4,1626.7 1137.9,1626.8 1142.4,1626.8 1146.9,1626.9 1151.4,1626.9 1155.9,1627.0 1160.4,1627.0 1164.9,1627.1 1169.4,1627.1 1173.9,1627.2 1178.4,1627.2 1182.9,1627.2 1187.4,1627.3 1191.9,1627.3 1196.4,1627.4 1200.9,1627.4 1205.4,1627.4 1209.9,1627.5 1214.4,1627.5 1218.9,1627.5 1223.4,1627.6 1227.9,1627.6 1232.4,1627.6 1236.9,1627.7 1241.4,1627.7 1245.9,1627.7 1250.4,1627.7 1254.9,1627.8 1259.4,1627.8 1263.9,1627.8 1268.3,1627.8 1272.8,1627.8 1277.3,1627.9 1281.8,1627.9 1286.3,1627.9 1290.8,1627.9 1295.3,1627.9 1299.8,1628.0 1304.3,1628.0 1308.8,1628.0 1313.3,1628.0 1317.8,1628.0 1322.3,1628.1 1326.8,1628.1 1331.3,1628.1 1335.8,1628.1 1340.3,1628.1 1344.8,1628.1 1349.3,1628.1 1353.8,1628.1 1358.3,1628.2 1362.8,1628.2 1367.3,1628.2 1371.8,1628.2 1376.3,1628.2 1380.8,1628.2 1385.3,1628.2 1389.8,1628.2 1394.3,1628.2 1398.8,1628.3 1403.3,1628.3 1407.8,1628.3 1412.3,1628.3 1416.8,1628.3 1421.3,1628.3 1425.8,1628.3 1430.3,1628.3 1434.8,1628.3 1439.3,1628.3 1443.8,1628.3 1448.2,1628.3 1452.7,1628.3 1457.2,1628.4 1461.7,1628.4 1466.2,1628.4 1470.7,1628.4 1475.2,1628.4 1479.7,1628.4 1484.2,1628.4 1488.7,1628.4 1493.2,1628.4 1497.7,1628.4 1502.2,1628.4 1506.7,1628.4 1511.2,1628.4 1515.7,1628.4 1520.2,1628.4 1524.7,1628.4 1529.2,1628.4 1533.7,1628.4 1538.2,1628.4"/>
<polyline class="c" stroke="#0000FF" points="188.9,740.9 193.4,751.8 197.9,762.8 202.4,773.9 206.9,785.0 211.4,796.2 215.9,807.4 220.4,818.6 224.9,829.9 229.4,841.2 233.9,852.5 238.4,863.9 242.9,875.2 247.4,886.6 251.9,898.0 256.4,909.3 260.9,920.7 265.4,932.0 269.9,943.4 274.4,954.7 278.9,965.9 283.4,977.2 287.9,988.4 292.4,999.5 296.9,1010.6 301.4,1021.7 305.9,1032.7 310.4,1043.6 314.9,1054.4 319.4,1065.2 323.9,1075.9 328.4,1086.5 332.9,1097.1 337.4,1107.5 341.9,1117.8 346.4,1128.1 350.9,1138.2 355.4,1148.3 359.9,1158.2 364.4,1168.1 368.8,1177.8 373.3,1187.4 377.8,1196.8 382.3,1206.2 386.8,1215.4 391.3,1224.5 395.8,1233.5 400.3,1242.4 404.8,1251.1 409.3,1259.7 413.8,1268.2 418.3,1276.5 422.8,1284.7 427.3,1292.8 431.8,1300.7 436.3,1308.5 440.8,1316.2 445.3,1323.7 449.8,1331.1 454.3,1338.4 458.8,1345.5 463.3,1352.5 467.8,1359.3 472.3,1366.0 476.8,1372.6 481.3,1379.1 485.8,1385.4 490.3,1391.6 494.8,1397.7 499.3,1403.6 503.8,1409.5 508.3,1415.1 512.8,1420.7 517.3,1426.2 521.8,1431.5 526.3,1436.7 530.8,1441.8 535.3,1446.8 539.8,1451.6 544.3,1456.4 548.8,1461.0 553.2,1465.5 557.7,1470.0 562.2,1474.3 566.7,1478.5 571.2,1482.6 575.7,1486.6 580.2,1490.5 584.7,1494.3 589.2,1498.0 593.7,1501.7 598.2,1505.2 602.7,1508.6 607.2,1512.0 611.7,1515.3 616.2,1518.4 620.7,1521.5 625.2,1524.6 629.7,1527.5 634.2,1530.4 638.7,1533.2 643.2,1535.9 647.7,1538.5 652.2,1541.1 656.7,1543.6 661.2,1546.0 665.7,1548.4 670.2,1550.7 674.7,1553.0 679.2,1555.1 683.7,1557.3 688.2,1559.3 692.7,1561.3 697.2,1563.3 701.7,1565.2 706.2,1567.0 710.7,1568.8 715.2,1570.6 719.7,1572.3 724.2,1573.9 728.6,1575.5 733.1,1577.1 737.6,1578.6 742.1,1580.0 746.6,1581.5 751.1,1582.8 755.6,1584.2 760.1,1585.5 764.6,1586.8 769.1,1588.0 773.6,1589.2 778.1,1590.4 782.6,1591.5 787.1,1592.6 791.6,1593.7 796.1,1594.7 800.6,1595.7 805.1,1596.7 809.6,1597.6 814.1,1598.6 818.6,1599.4 823.1,1600.3 827.6,1601.2 832.1,1602.0 836.6,1602.8 841.1,1603.5 845.6,1604.3 850.1,1605.0 854.6,1605.7 859.1,1606.4 863.6,1607.1 868.1,1607.7 872.6,1608.3 877.1,1608.9 881.6,1609.5 886.1,1610.1 890.6,1610.6 895.1,1611.2 899.6,1611.7 904.1,1612.2 908.5,1612.7 913.0,1613.2 917.5,1613.6 922.0,1614.1 926.5,1614.5 931.0,1614.9 935.5,1615.4 940.0,1615.8 944.5,1616.1 949.0,1616.5 953.5,1616.9 958.0,1617.2 962.5,1617.6 967.0,1617.9 971.5,1618.2 976.0,1618.5 980.5,1618.8 985.0,1619.1 989.5,1619.4 994.0,1619.7 998.5,1620.0 1003.0,1620.2 1007.5,1620.5 1012.0,1620.7 1016.5,1620.9 1021.0,1621.2 1025.5,1621.4 1030.0,1621.6 1034.5,1621.8 1039.0,1622.0 1043.5,1622.2 1048.0,1622.4 1052.5,1622.6 1057.0,1622.8 1061.5,1623.0 1066.0,1623.1 1070.5,1623.3 1075.0,1623.5 1079.5,1623.6 1084.0,1623.8 1088.4,1623.9 1092.9,1624.0 1097.4,1624.2 1101.9,1624.3 1106.4,1624.4 1110.9,1624.6 1115.4,1624.7 1119.9,1624.8 1124.4,1624.9 1128.9,1625.0 1133.4,1625.1 1137.9,1625.2 1142.4,1625.3 1146.9,1625.4 1151.4,1625.5 1155.9,1625.6 1160.4,1625.7 1164.9,1625.8 1169.4,1625.9 1173.9,1626.0 1178.4,1626.0 1182.9,1626.1 1187.4,1626.2 1191.9,1626.3 1196.4,1626.3 1200.9,1626.4 1205.4,1626.5 1209.9,1626.5 1214.4,1626.6 1218.9,1626.6 1223.4,1626.7 1227.9,1626.8 1232.4,1626.8 1236.9,1626.9 1241.4,1626.9 1245.9,1627.0 1250.4,1627.0 1254.9,1627.1 1259.4,1627.1 1263.9,1627.2 1268.3,1627.2 1272.8,1627.2 1277.3,1627.3 1281.8,1627.3 1286.3,1627.4 1290.8,1627.4 1295.3,1627.4 1299.8,1627.5 1304.3,1627.5 1308.8,1627.5 1313.3,1627.6 1317.8,1627.6 1322.3,1627.6 1326.8,1627.6 1331.3,1627.7 1335.8,1627.7 1340.3,1627.7 1344.8,1627.7 1349.3,1627.8 1353.8,1627.8 1358.3,1627.8 1362.8,1627.8 1367.3,1627.9 1371.8,1627.9 1376.3,1627.9 1380.8,1627.9 1385.3,1627.9 1389.8,1628.0 1394.3,1628.0 1398.8,1628.0 1403.3,1628.0 1407.8,1628.0 1412.3,1628.0 1416.8,1628.1 1421.3,1628.1 1425.8,1628.1 1430.3,1628.1 1434.8,1628.1 1439.3,1628.1 1443.8,1628.1 1448.2,1628.2 1452.7,1628.2 1457.2,1628.2 1461.7,1628.2 1466.2,1628.2 1470.7,1628.2 1475.2,1628.2 1479.7,1628.2 1484.2,1628.2 1488.7,1628.3 1493.2,1628.3 1497.7,1628.3 1502.2,1628.3 1506.7,1628.3 1511.2,1628.3 1515.7,1628.3 1520.2,1628.3 1524.7,1628.3 1529.2,1628.3 1533.7,1628.3 1538.2,1628.3"/>
<polyline class="c" stroke="#FFA500" points="188.9,538.5 193.4,547.3 197.9,556.3 202.4,565.3 206.9,574.6 211.4,583.9 215.9,593.3 220.4,602.9 224.9,612.6 229.4,622.4 233.9,632.3 238.4,642.3 242.9,652.5 247.4,662.7 251.9,673.0 256.4,683.4 260.9,694.0 265.4,704.6 269.9,715.2 274.4,726.0 278.9,736.8 283.4,747.8 287.9,758.7 292.4,769.8 296.9,780.8 301.4,792.0 305.9,803.2 310.4,814.4 314.9,825.7 319.4,837.0 323.9,848.3 328.4,859.6 332.9,871.0 337.4,882.4 341.9,893.7 346.4,905.1 350.9,916.5 355.4,927.8 359.9,939.2 364.4,950.5 368.8,961.7 373.3,973.0 377.8,984.2 382.3,995.4 386.8,1006.5 391.3,1017.6 395.8,1028.6 400.3,1039.5 404.8,1050.4 409.3,1061.2 413.8,1071.9 418.3,1082.6 422.8,1093.1 427.3,1103.6 431.8,1114.0 436.3,1124.3 440.8,1134.5 445.3,1144.6 449.8,1154.5 454.3,1164.4 458.8,1174.2 463.3,1183.8 467.8,1193.3 472.3,1202.7 476.8,1212.0 481.3,1221.2 485.8,1230.2 490.3,1239.1 494.8,1247.9 499.3,1256.5 503.8,1265.0 508.3,1273.4 512.8,1281.7 517.3,1289.8 521.8,1297.8 526.3,1305.6 530.8,1313.3 535.3,1320.9 539.8,1328.4 544.3,1335.7 548.8,1342.8 553.2,1349.9 557.7,1356.8 562.2,1363.6 566.7,1370.2 571.2,1376.7 575.7,1383.1 580.2,1389.3 584.7,1395.4 589.2,1401.4 593.7,1407.3 598.2,1413.0 602.7,1418.7 607.2,1424.1 611.7,1429.5 616.2,1434.8 620.7,1439.9 625.2,1444.9 629.7,1449.8 634.2,1454.6 638.7,1459.3 643.2,1463.9 647.7,1468.3 652.2,1472.7 656.7,1476.9 661.2,1481.1 665.7,1485.1 670.2,1489.1 674.7,1492.9 679.2,1496.7 683.7,1500.3 688.2,1503.9 692.7,1507.4 697.2,1510.7 701.7,1514.0 706.2,1517.3 710.7,1520.4 715.2,1523.4 719.7,1526.4 724.2,1529.3 728.6,1532.1 733.1,1534.9 737.6,1537.5 742.1,1540.1 746.6,1542.7 751.1,1545.1 755.6,1547.5 760.1,1549.9 764.6,1552.1 769.1,1554.3 773.6,1556.5 778.1,1558.6 782.6,1560.6 787.1,1562.6 791.6,1564.5 796.1,1566.3 800.6,1568.2 805.1,1569.9 809.6,1571.6 814.1,1573.3 818.6,1574.9 823.1,1576.5 827.6,1578.0 832.1,1579.5 836.6,1580.9 841.1,1582.3 845.6,1583.7 850.1,1585.0 854.6,1586.3 859.1,1587.6 863.6,1588.8 868.1,1589.9 872.6,1591.1 877.1,1592.2 881.6,1593.3 886.1,1594.3 890.6,1595.3 895.1,1596.3 899.6,1597.3 904.1,1598.2 908.5,1599.1 913.0,1600.0 917.5,1600.8 922.0,1601.7 926.5,1602.5 931.0,1603.2 935.5,1604.0 940.0,1604.7 944.5,1605.5 949.0,1606.1 953.5,1606.8 958.0,1607.5 962.5,1608.1 967.0,1608.7 971.5,1609.3 976.0,1609.9 980.5,1610.4 985.0,1611.0 989.5,1611.5 994.0,1612.0 998.5,1612.5 1003.0,1613.0 1007.5,1613.5 1012.0,1613.9 1016.5,1614.4 1021.0,1614.8 1025.5,1615.2 1030.0,1615.6 1034.5,1616.0 1039.0,1616.4 1043.5,1616.7 1048.0,1617.1 1052.5,1617.4 1057.0,1617.8 1061.5,1618.1 1066.0,1618.4 1070.5,1618.7 1075.0,1619.0 1079.5,1619.3 1084.0,1619.6 1088.4,1619.9 1092.9,1620.1 1097.4,1620.4 1101.9,1620.6 1106.4,1620.9 1110.9,1621.1 1115.4,1621.3 1119.9,1621.5 1124.4,1621.7 1128.9,1622.0 1133.4,1622.2 1137.9,1622.3 1142.4,1622.5 1146.9,1622.7 1151.4,1622.9 1155.9,1623.1 1160.4,1623.2 1164.9,1623.4 1169.4,1623.5 1173.9,1623.7 1178.4,1623.8 1182.9,1624.0 1187.4,1624.1 1191.9,1624.3 1196.4,1624.4 1200.9,1624.5 1205.4,1624.6 1209.9,1624.8 1214.4,1624.9 1218.9,1625.0 1223.4,1625.1 1227.9,1625.2 1232.4,1625.3 1236.9,1625.4 1241.4,1625.5 1245.9,1625.6 1250.4,1625.7 1254.9,1625.8 1259.4,1625.8 1263.9,1625.9 1268.3,1626.0 1272.8,1626.1 1277.3,1626.2 1281.8,1626.2 1286.3,1626.3 1290.8,1626.4 1295.3,1626.4 1299.8,1626.5 1304.3,1626.6 1308.8,1626.6 1313.3,1626.7 1317.8,1626.7 1322.3,1626.8 1326.8,1626.8 1331.3,1626.9 1335.8,1626.9 1340.3,1627.0 1344.8,1627.0 1349.3,1627.1 1353.8,1627.1 1358.3,1627.2 1362.8,1627.2 1367.3,1627.3 1371.8,1627.3 1376.3,1627.3 1380.8,1627.4 1385.3,1627.4 1389.8,1627.4 1394.3,1627.5 1398.8,1627.5 1403.3,1627.5 1407.8,1627.6 1412.3,1627.6 1416.8,1627.6 1421.3,1627.7 1425.8,1627.7 1430.3,1627.7 1434.8,1627.7 1439.3,1627.8 1443.8,1627.8 1448.2,1627.8 1452.7,1627.8 1457.2,1627.9 1461.7,1627.9 1466.2,1627.9 1470.7,1627.9 1475.2,1627.9 1479.7,1628.0 1484.2,1628.0 1488.7,1628.0 1493.2,1628.0 1497.7,1628.0 1502.2,1628.0 1506.7,1628.1 1511.2,1628.1 1515.7,1628.1 1520.2,1628.1 1524.7,1628.1 1529.2,1628.1 1533.7,1628.1 1538.2,1628.2"/>
<polyline class="c" stroke="#CD00CD" points="188.9,387.5 193.4,393.6 197.9,399.9 202.4,406.3 206.9,412.8 211.4,419.4 215.9,426.2 220.4,433.1 224.9,440.2 229.4,447.3 233.9,454.7 238.4,462.1 242.9,469.7 247.4,477.4 251.9,485.3 256.4,493.3 260.9,501.4 265.4,509.6 269.9,518.0 274.4,526.5 278.9,535.2 283.4,544.0 287.9,552.9 292.4,561.9 296.9,571.1 301.4,580.4 305.9,589.8 310.4,599.3 314.9,609.0 319.4,618.7 323.9,628.6 328.4,638.6 332.9,648.7 337.4,658.9 341.9,669.2 346.4,679.6 350.9,690.0 355.4,700.6 359.9,711.3 364.4,722.0 368.8,732.8 373.3,743.7 377.8,754.6 382.3,765.6 386.8,776.7 391.3,787.8 395.8,799.0 400.3,810.2 404.8,821.5 409.3,832.8 413.8,844.1 418.3,855.4 422.8,866.8 427.3,878.1 431.8,889.5 436.3,900.9 440.8,912.2 445.3,923.6 449.8,934.9 454.3,946.3 458.8,957.5 463.3,968.8 467.8,980.0 472.3,991.2 476.8,1002.4 481.3,1013.5 485.8,1024.5 490.3,1035.5 494.8,1046.4 499.3,1057.2 503.8,1067.9 508.3,1078.6 512.8,1089.2 517.3,1099.7 521.8,1110.1 526.3,1120.5 530.8,1130.7 535.3,1140.8 539.8,1150.8 544.3,1160.7 548.8,1170.5 553.2,1180.2 557.7,1189.8 562.2,1199.2 566.7,1208.6 571.2,1217.8 575.7,1226.8 580.2,1235.8 584.7,1244.6 589.2,1253.3 593.7,1261.9 598.2,1270.3 602.7,1278.6 607.2,1286.8 611.7,1294.8 616.2,1302.7 620.7,1310.5 625.2,1318.1 629.7,1325.6 634.2,1333.0 638.7,1340.2 643.2,1347.3 647.7,1354.2 652.2,1361.0 656.7,1367.7 661.2,1374.3 665.7,1380.7 670.2,1387.0 674.7,1393.2 679.2,1399.2 683.7,1405.1 688.2,1410.9 692.7,1416.6 697.2,1422.1 701.7,1427.5 706.2,1432.8 710.7,1438.0 715.2,1443.1 719.7,1448.0 724.2,1452.8 728.6,1457.6 733.1,1462.2 737.6,1466.7 742.1,1471.1 746.6,1475.3 751.1,1479.5 755.6,1483.6 760.1,1487.6 764.6,1491.5 769.1,1495.3 773.6,1499.0 778.1,1502.6 782.6,1506.1 787.1,1509.5 791.6,1512.8 796.1,1516.1 800.6,1519.2 805.1,1522.3 809.6,1525.3 814.1,1528.2 818.6,1531.1 823.1,1533.9 827.6,1536.6 832.1,1539.2 836.6,1541.7 841.1,1544.2 845.6,1546.6 850.1,1549.0 854.6,1551.3 859.1,1553.5 863.6,1555.7 868.1,1557.8 872.6,1559.8 877.1,1561.8 881.6,1563.8 886.1,1565.7 890.6,1567.5 895.1,1569.3 899.6,1571.0 904.1,1572.7 908.5,1574.3 913.0,1575.9 917.5,1577.4 922.0,1578.9 926.5,1580.4 931.0,1581.8 935.5,1583.2 940.0,1584.5 944.5,1585.8 949.0,1587.1 953.5,1588.3 958.0,1589.5 962.5,1590.7 967.0,1591.8 971.5,1592.9 976.0,1593.9 980.5,1595.0 985.0,1596.0 989.5,1596.9 994.0,1597.9 998.5,1598.8 1003.0,1599.7 1007.5,1600.5 1012.0,1601.4 1016.5,1602.2 1021.0,1603.0 1025.5,1603.7 1030.0,1604.5 1034.5,1605.2 1039.0,1605.9 1043.5,1606.6 1048.0,1607.2 1052.5,1607.9 1057.0,1608.5 1061.5,1609.1 1066.0,1609.7 1070.5,1610.2 1075.0,1610.8 1079.5,1611.3 1084.0,1611.8 1088.4,1612.3 1092.9,1612.8 1097.4,1613.3 1101.9,1613.8 1106.4,1614.2 1110.9,1614.6 1115.4,1615.1 1119.9,1615.5 1124.4,1615.9 1128.9,1616.2 1133.4,1616.6 1137.9,1617.0 1142.4,1617.3 1146.9,1617.7 1151.4,1618.0 1155.9,1618.3 1160.4,1618.6 1164.9,1618.9 1169.4,1619.2 1173.9,1619.5 1178.4,1619.8 1182.9,1620.0 1187.4,1620.3 1191.9,1620.5 1196.4,1620.8 1200.9,1621.0 1205.4,1621.2 1209.9,1621.5 1214.4,1621.7 1218.9,1621.9 1223.4,1622.1 1227.9,1622.3 1232.4,1622.5 1236.9,1622.7 1241.4,1622.8 1245.9,1623.0 1250.4,1623.2 1254.9,1623.3 1259.4,1623.5 1263.9,1623.6 1268.3,1623.8 1272.8,1623.9 1277.3,1624.1 1281.8,1624.2 1286.3,1624.3 1290.8,1624.5 1295.3,1624.6 1299.8,1624.7 1304.3,1624.8 1308.8,1624.9 1313.3,1625.1 1317.8,1625.2 1322.3,1625.3 1326.8,1625.4 1331.3,1625.5 1335.8,1625.6 1340.3,1625.6 1344.8,1625.7 1349.3,1625.8 1353.8,1625.9 1358.3,1626.0 1362.8,1626.1 1367.3,1626.1 1371.8,1626.2 1376.3,1626.3 1380.8,1626.3 1385.3,1626.4 1389.8,1626.5 1394.3,1626.5 1398.8,1626.6 1403.3,1626.7 1407.8,1626.7 1412.3,1626.8 1416.8,1626.8 1421.3,1626.9 1425.8,1626.9 1430.3,1627.0 1434.8,1627.0 1439.3,1627.1 1443.8,1627.1 1448.2,1627.2 1452.7,1627.2 1457.2,1627.2 1461.7,1627.3 1466.2,1627.3 1470.7,1627.4 1475.2,1627.4 1479.7,1627.4 1484.2,1627.5 1488.7,1627.5 1493.2,1627.5 1497.7,1627.6 1502.2,1627.6 1506.7,1627.6 1511.2,1627.6 1515.7,1627.7 1520.2,1627.7 1524.7,1627.7 1529.2,1627.8 1533.7,1627.8 1538.2,1627.8"/>
<g stroke="#262626" fill="none" stroke-linecap="square"><line x1="122.10" x2="1605.00" y1="3.25" y2="3.25" stroke-width="1.45"/><line x1="122.10" x2="1605.00" y1="1705.30" y2="1705.30" stroke-width="1.8"/><line x1="122.10" x2="122.10" y1="3.25" y2="1705.30" stroke-width="1.8"/><line x1="1605.00" x2="1605.00" y1="3.25" y2="1705.30" stroke-width="1.8"/></g>
<g stroke="#262626" stroke-width="2.6">
<line x1="115.10" x2="121.10" y1="1628.55" y2="1628.55"/>
<line x1="115.10" x2="121.10" y1="1259.92" y2="1259.92"/>
<line x1="115.10" x2="121.10" y1="891.30" y2="891.30"/>
<line x1="115.10" x2="121.10" y1="522.67" y2="522.67"/>
<line x1="115.10" x2="121.10" y1="154.05" y2="154.05"/>
<line x1="188.95" x2="188.95" y1="1706.30" y2="1711.90"/>
<line x1="638.70" x2="638.70" y1="1706.30" y2="1711.90"/>
<line x1="1088.45" x2="1088.45" y1="1706.30" y2="1711.90"/>
<line x1="1538.20" x2="1538.20" y1="1706.30" y2="1711.90"/>
</g>
<text class="tk" transform="translate(110.20,1640.65) scale(0.9000,1)" text-anchor="end">0.00</text>
<text class="tk" transform="translate(110.20,1272.02) scale(0.9000,1)" text-anchor="end">0.25</text>
<text class="tk" transform="translate(110.20,903.40) scale(0.9000,1)" text-anchor="end">0.50</text>
<text class="tk" transform="translate(110.20,534.77) scale(0.9000,1)" text-anchor="end">0.75</text>
<text class="tk" transform="translate(110.20,166.15) scale(0.9000,1)" text-anchor="end">1.00</text>
<text class="tk" transform="translate(188.95,1741.20) scale(0.9100,1)" text-anchor="middle">0</text>
<text class="tk" transform="translate(638.70,1741.20) scale(0.9100,1)" text-anchor="middle">50</text>
<text class="tk" transform="translate(1088.45,1741.20) scale(0.9100,1)" text-anchor="middle">100</text>
<text class="tk" transform="translate(1538.20,1741.20) scale(0.9100,1)" text-anchor="middle">150</text>
<text class="ti" transform="translate(863.95,1783.10) scale(0.9720,1)" text-anchor="middle">Distance (km)</text>
<text class="ti" transform="translate(33.30,854.50) rotate(-90) scale(0.9730,1)" text-anchor="middle">Proportion positives</text>
<text class="ti" transform="translate(1642.90,740.20) scale(0.9496,1)" text-anchor="start">Year</text>
<g stroke="#000000" fill="none"><line x1="1647" x2="1679.4" y1="785.70" y2="785.70" stroke-width="2.70"/><circle cx="1663.1" cy="785.90" r="4.40" stroke-width="2.25"/></g>
<text class="lg" transform="translate(1703.80,797.80) scale(0.9290,1)" text-anchor="start">2013</text>
<g stroke="#F20000" fill="none"><line x1="1647" x2="1679.4" y1="825.20" y2="825.20" stroke-width="2.70"/><circle cx="1663.1" cy="825.40" r="4.40" stroke-width="2.25"/></g>
<text class="lg" transform="translate(1703.80,837.30) scale(0.9290,1)" text-anchor="start">2014</text>
<g stroke="#00C300" fill="none"><line x1="1647" x2="1679.4" y1="864.70" y2="864.70" stroke-width="2.70"/><circle cx="1663.1" cy="864.90" r="4.40" stroke-width="2.25"/></g>
<text class="lg" transform="translate(1703.80,876.80) scale(0.9290,1)" text-anchor="start">2015</text>
<g stroke="#0000F2" fill="none"><line x1="1647" x2="1679.4" y1="904.20" y2="904.20" stroke-width="2.70"/><circle cx="1663.1" cy="904.40" r="4.40" stroke-width="2.25"/></g>
<text class="lg" transform="translate(1703.80,916.30) scale(0.9290,1)" text-anchor="start">2016</text>
<g stroke="#F29D00" fill="none"><line x1="1647" x2="1679.4" y1="943.70" y2="943.70" stroke-width="2.70"/><circle cx="1663.1" cy="943.90" r="4.40" stroke-width="2.25"/></g>
<text class="lg" transform="translate(1703.80,955.80) scale(0.9290,1)" text-anchor="start">2017</text>
<g stroke="#C300C3" fill="none"><line x1="1647" x2="1679.4" y1="983.20" y2="983.20" stroke-width="2.70"/><circle cx="1663.1" cy="983.40" r="4.40" stroke-width="2.25"/></g>
<text class="lg" transform="translate(1703.80,995.30) scale(0.9290,1)" text-anchor="start">2018</text>
</svg></body></html>
